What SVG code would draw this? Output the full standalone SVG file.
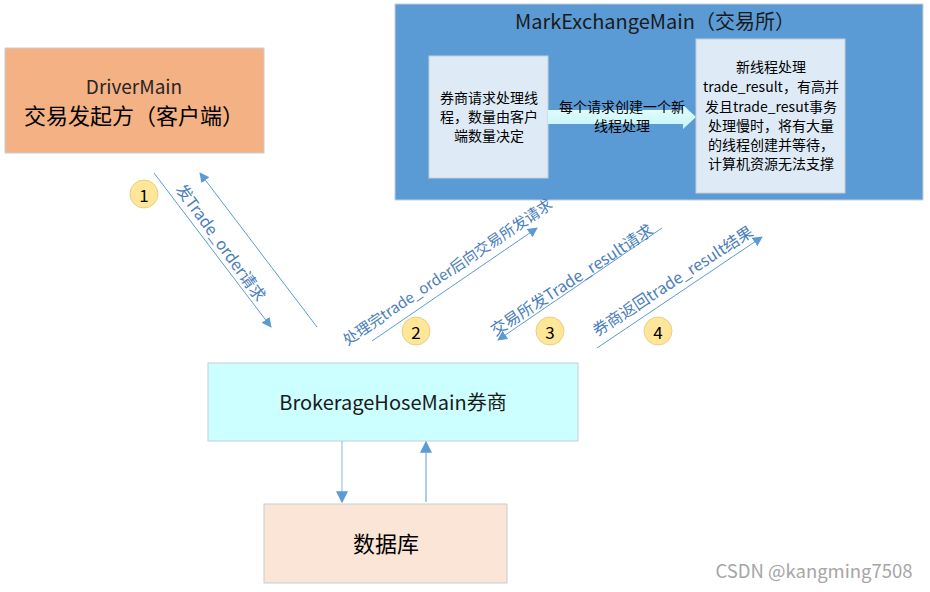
<svg xmlns="http://www.w3.org/2000/svg" width="930" height="592" viewBox="0 0 930 592">
  <defs>
    <marker id="tri" viewBox="0 0 10 10" refX="9" refY="5" markerWidth="10" markerHeight="10" markerUnits="userSpaceOnUse" orient="auto">
      <path d="M0,0 L10,5 L0,10 z" fill="#5B9BD5"/>
    </marker>
    <marker id="triBig" viewBox="0 0 10 10" refX="9" refY="5" markerWidth="12" markerHeight="12" markerUnits="userSpaceOnUse" orient="auto">
      <path d="M0,0 L10,5 L0,10 z" fill="#5B9BD5"/>
    </marker>
    <linearGradient id="flow" x1="0" y1="0" x2="0" y2="1">
      <stop offset="0" stop-color="#E6FFFF"/>
      <stop offset="1" stop-color="#C4F4F8"/>
    </linearGradient>
  </defs>
  <style>
    text { font-family: "Noto Sans CJK SC", "Noto Sans", sans-serif; }
    .box { stroke: #C8CDD3; stroke-width: 1; }
    .inner { fill: #DEEBF7; stroke: #C8CDD3; stroke-width: 1; }
    .line { stroke: #5B9BD5; stroke-width: 1; fill: none; }
    .lbl { fill: #4A7EBB; font-size: 16px; text-anchor: middle; dominant-baseline: central; }
    .lbl.small { font-size: 15px; }
    .note { fill: #000; font-size: 14px; text-anchor: middle; }
    .badge circle { fill: #FFE699; stroke: #E2C77A; stroke-width: 0.8; }
    .badge text { font-size: 17px; text-anchor: middle; dominant-baseline: central; fill: #000; }
  </style>
  <rect width="930" height="592" fill="#FFFFFF"/>

  <!-- client -->
  <g id="driver">
    <rect class="box" x="5" y="48" width="259" height="105" fill="#F4B183"/>
    <text x="134" y="94" font-size="19" fill="#262626" text-anchor="middle">DriverMain</text>
    <text x="134" y="124" font-size="22" fill="#000" text-anchor="middle">交易发起方（客户端）</text>
  </g>

  <!-- exchange -->
  <g id="exchange">
    <rect class="box" x="395" y="4" width="528" height="196" fill="#5B9BD5"/>
    <text x="655" y="29" font-size="20" fill="#1A1A1A" text-anchor="middle">MarkExchangeMain（交易所）</text>
    <g id="broker-threads">
      <rect class="inner" x="429" y="56" width="119" height="122"/>
      <text class="note" x="489" y="103">券商请求处理线</text>
      <text class="note" x="489" y="122">程，数量由客户</text>
      <text class="note" x="489" y="141">端数量决定</text>
    </g>
    <g id="spawn">
      <path d="M548,110 H683 V105 L696,117 L683,129 V124 H548 z" fill="url(#flow)"/>
      <text class="note" x="622" y="112">每个请求创建一个新</text>
      <text class="note" x="622" y="131">线程处理</text>
    </g>
    <g id="new-threads">
      <rect class="inner" x="696" y="39" width="149" height="154"/>
      <text class="note" x="771" y="72">新线程处理</text>
      <text class="note" x="771" y="92">trade_result，有高并</text>
      <text class="note" x="771" y="112">发且trade_resut事务</text>
      <text class="note" x="771" y="131">处理慢时，将有大量</text>
      <text class="note" x="771" y="150">的线程创建并等待，</text>
      <text class="note" x="771" y="169">计算机资源无法支撑</text>
    </g>
  </g>

  <!-- broker -->
  <g id="broker">
    <rect class="box" x="208" y="363" width="370" height="78" fill="#CCFFFF"/>
    <text x="393" y="410" font-size="20" fill="#1A1A1A" text-anchor="middle">BrokerageHoseMain券商</text>
  </g>

  <!-- database -->
  <g id="database">
    <rect class="box" x="264" y="504" width="243" height="79" fill="#FBE5D6"/>
    <text x="386" y="552" font-size="22" fill="#000" text-anchor="middle">数据库</text>
  </g>

  <!-- connectors -->
  <g id="connectors">
    <line class="line" x1="154" y1="173" x2="271" y2="327" marker-end="url(#tri)"/>
    <line class="line" x1="317" y1="327" x2="200" y2="173" marker-end="url(#tri)"/>
    <line class="line" x1="372" y1="341" x2="537" y2="228" marker-end="url(#tri)"/>
    <line class="line" x1="662" y1="228" x2="498" y2="340" marker-end="url(#tri)"/>
    <line class="line" x1="597" y1="348" x2="762" y2="237" marker-end="url(#tri)"/>
    <line class="line" x1="342" y1="441" x2="342" y2="502" stroke-width="1.5" stroke-opacity="0.7" marker-end="url(#triBig)"/>
    <line class="line" x1="426" y1="502" x2="426" y2="442" marker-end="url(#triBig)"/>
  </g>

  <!-- connector labels -->
  <g id="labels">
    <text class="lbl" transform="translate(222,242) rotate(54)">发Trade_order请求</text>
    <text class="lbl small" transform="translate(447,271) rotate(-34)">处理完trade_order后向交易所发请求</text>
    <text class="lbl" transform="translate(571,279) rotate(-33)">交易所发Trade_result请求</text>
    <text class="lbl" transform="translate(672,280) rotate(-33)">券商返回trade_result结果</text>
  </g>

  <!-- step badges -->
  <g id="badges">
    <g class="badge"><circle cx="144" cy="194" r="14"/><text x="144" y="194">1</text></g>
    <g class="badge"><circle cx="416" cy="331" r="14"/><text x="416" y="331">2</text></g>
    <g class="badge"><circle cx="550" cy="331" r="14"/><text x="550" y="331">3</text></g>
    <g class="badge"><circle cx="658" cy="331" r="14"/><text x="658" y="331">4</text></g>
  </g>

  <text x="814" y="578" font-size="18.5" fill="#A6A6A6" text-anchor="middle" font-family="'Open Sans', sans-serif">CSDN @kangming7508</text>
</svg>
